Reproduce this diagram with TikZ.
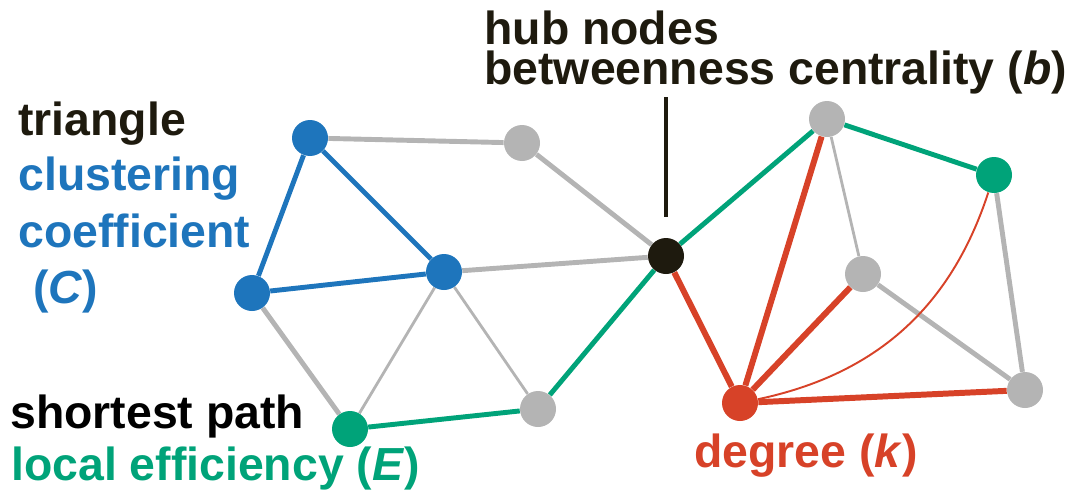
\documentclass[tikz,border=0pt]{standalone}
\usepackage{fontspec}
\setmainfont{Liberation Sans}
\usetikzlibrary{positioning,backgrounds}
\definecolor{netblue}{RGB}{30,117,188}
\definecolor{netgreen}{RGB}{0,163,121}
\definecolor{netred}{RGB}{215,66,40}
\definecolor{netgray}{RGB}{180,180,180}
\definecolor{hubblack}{RGB}{30,26,14}
\begin{document}
\begin{tikzpicture}[x=0.02cm,y=-0.02cm,dot/.style={circle,inner sep=0pt,minimum size=0.72cm},lbl/.style={anchor=base west,inner sep=0pt,font=\fontsize{26.4}{22.7}\selectfont\bfseries},link/.style={line width=2.8pt},weak/.style={line width=1.6pt,netgray}]
\useasboundingbox (0,0) rectangle (1077,494);
% network nodes
\node[dot,fill=netblue](ta) at (310,138){}; \node[dot,fill=netgray](g1) at (522,143){};
\node[dot,fill=netblue](tc) at (444,272){}; \node[dot,fill=netblue](tb) at (252,293){};
\node[dot,fill=netgreen](s1) at (350,429){}; \node[dot,fill=netgray](g2) at (538,409){};
\node[dot,fill=hubblack](hub) at (666,256){};
\node[dot,fill=netgray](g3) at (827,119){}; \node[dot,fill=netgreen](s2) at (994,175){};
\node[dot,fill=netgray](g4) at (863,274){}; \node[dot,fill=netgray](g5) at (1025,390){};
\node[dot,fill=netred](deg) at (740,403){};
\coordinate (ptr) at (666,97); \coordinate (ptrend) at (666,217);
% connectors
\begin{scope}[on background layer]
\draw[link,netgray](ta)--(g1); \draw[link,netgray](g1)--(hub); \draw[link,netgray](tc)--(hub); \draw[link,netgray](tb)--(s1);
\draw[weak](tc)--(s1); \draw[weak](tc)--(g2);
\draw[link,netblue](ta)--(tc); \draw[link,netblue](ta)--(tb); \draw[link,netblue](tb)--(tc);
\draw[link,netgreen](s1)--(g2); \draw[link,netgreen](g2)--(hub); \draw[link,netgreen](hub)--(g3); \draw[link,netgreen](g3)--(s2);
\draw[weak](g3)--(g4); \draw[link,netgray](g4)--(g5); \draw[link,netgray](s2)--(g5);
\draw[line width=3.4pt,netred](hub)--(deg); \draw[line width=3.4pt,netred](deg)--(g3); \draw[line width=3.4pt,netred](deg)--(g4); \draw[line width=3.4pt,netred](deg)--(g5);
\draw[line width=1.1pt,netred](deg) to[bend right=30] (s2);
\end{scope}
\draw[line width=2.3pt,hubblack](ptr)--(ptrend);
% labels
\node[lbl,hubblack,align=left](hubl) at (484,84){hub nodes\\betweenness centrality (\textit{b})};
\node[lbl,hubblack](tril) at (18,135){triangle}; \node[lbl,netblue](clu) at (18,190){clustering};
\node[lbl,netblue](coef) at (18,247){coefficient}; \node[lbl,netblue](cl) at (33,303){(\textit{C})};
\node[lbl,black](spl) at (10,428){shortest path}; \node[lbl,netgreen](eff) at (11,480){local efficiency (\textit{E})};
\node[lbl,netred](degl) at (694,467){degree (\textit{k})};
\end{tikzpicture}
\end{document}
